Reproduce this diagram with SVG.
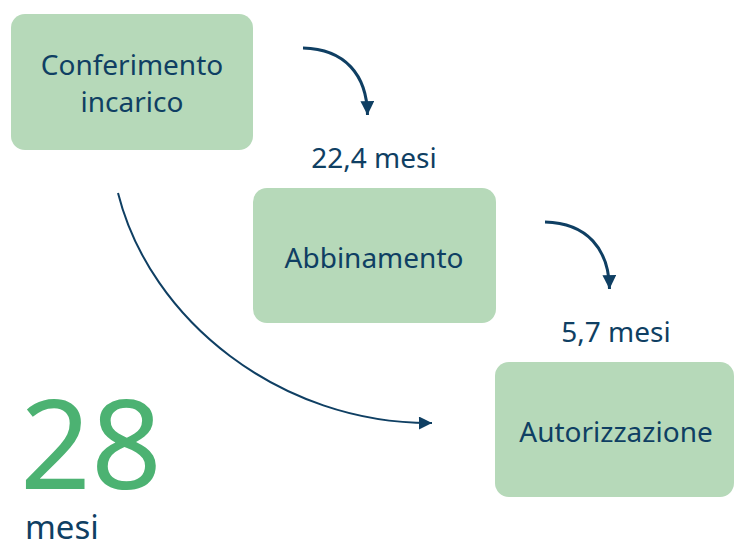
<svg xmlns="http://www.w3.org/2000/svg" width="734" height="550" viewBox="0 0 734 550">
<defs>
<style>
.box{fill:#b6d9b9;}
.t{font-family:"Noto Sans","Open Sans",sans-serif;font-size:28px;fill:#0f3f63;text-anchor:middle;}
.c{fill:none;stroke:#0f3f63;}
</style>
<marker id="ah" viewBox="0 0 10 10" refX="10" refY="5" markerWidth="6" markerHeight="4.6" markerUnits="strokeWidth" orient="auto">
<path d="M0,0 L10,5 L0,10 Z" fill="#0f3f63"/>
</marker>
<marker id="ah2" viewBox="0 0 10 10" refX="10" refY="5" markerWidth="9" markerHeight="6.5" markerUnits="strokeWidth" orient="auto">
<path d="M0,0 L10,5 L0,10 Z" fill="#0f3f63"/>
</marker>
</defs>
<rect width="734" height="550" fill="#ffffff"/>
<g id="conferimento">
<rect class="box" x="11" y="14" width="242" height="136" rx="14"/>
<text class="t" x="132" y="75">Conferimento</text>
<text class="t" x="132" y="112">incarico</text>
</g>
<g id="abbinamento">
<rect class="box" x="253" y="188" width="243" height="135" rx="14"/>
<text class="t" x="374" y="268">Abbinamento</text>
</g>
<g id="autorizzazione">
<rect class="box" x="495" y="362" width="239" height="135" rx="14"/>
<text class="t" x="616" y="442">Autorizzazione</text>
</g>
<g id="labels">
<text class="t" x="374" y="168">22,4 mesi</text>
<text class="t" x="616" y="342">5,7 mesi</text>
<text x="91" y="489" style="font-family:'Noto Sans','Open Sans',sans-serif;font-size:124px;fill:#4cb272;text-anchor:middle;">28</text>
<text x="25" y="539" style="font-family:'Noto Sans','Open Sans',sans-serif;font-size:33px;fill:#0f3f63;">mesi</text>
</g>
<g id="connectors">
<path class="c" stroke-width="3" marker-end="url(#ah)" d="M303,48 C345,49 367,75 367.5,115"/>
<path class="c" stroke-width="3" marker-end="url(#ah)" d="M545,222 C587,223 609,249 609.5,289"/>
<path class="c" stroke-width="2" marker-end="url(#ah2)" d="M118,193 C150,320 280,424 432,423"/>
</g>
</svg>
